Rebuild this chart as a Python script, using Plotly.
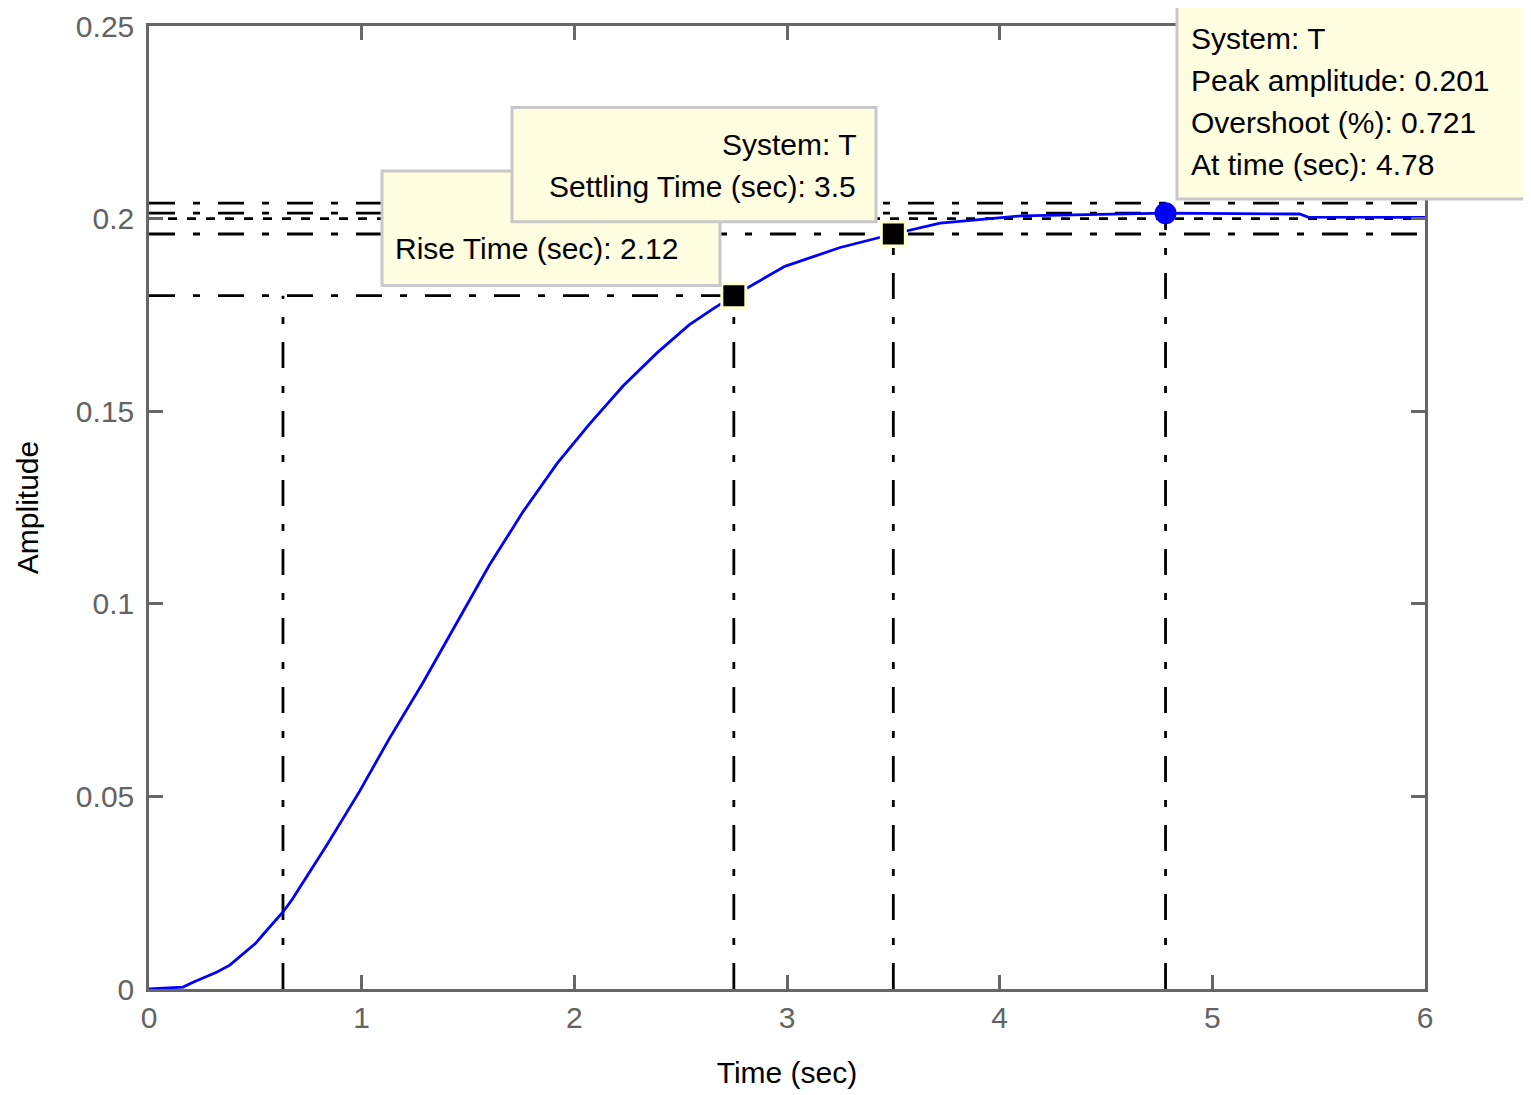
import plotly.graph_objects as go

# ---- data ----
time_s = [0.0, 0.16, 0.21, 0.32, 0.38, 0.44, 0.50, 0.55, 0.63, 0.67, 0.84, 0.99,
          1.13, 1.29, 1.45, 1.60, 1.76, 1.92, 2.07, 2.23, 2.39, 2.54, 2.65, 2.75,
          2.99, 3.25, 3.50, 3.72, 4.10, 4.78, 5.41, 5.45, 6.0]
amplitude = [0.0, 0.0005, 0.0018, 0.0044, 0.0062, 0.0090, 0.0118, 0.0150, 0.0200, 0.0230,
             0.0377, 0.0513, 0.065, 0.0797, 0.0955, 0.1100, 0.124, 0.1365, 0.1466,
             0.1566, 0.1652, 0.1724, 0.1765, 0.1800, 0.1876, 0.1925, 0.1960, 0.1988,
             0.2007, 0.2014, 0.2012, 0.2004, 0.2003]

final_value = 0.2
settle_band = [0.196, 0.204]
rise_start_t = 0.63
rise_end_t = 2.75
rise_level = 0.18
settling_t = 3.5
settling_level = 0.196
peak_t = 4.78
peak_value = 0.2014

x_ticks = [0, 1, 2, 3, 4, 5, 6]
y_ticks = [0, 0.05, 0.1, 0.15, 0.2, 0.25]
y_tick_labels = ["0", "0.05", "0.1", "0.15", "0.2", "0.25"]

rise_text = "Rise Time (sec): 2.12"
settle_lines = ["System: T", "Settling Time (sec): 3.5"]
peak_lines = ["System: T", "Peak amplitude: 0.201", "Overshoot (%): 0.721", "At time (sec): 4.78"]

# ---- layout geometry (pixels); page body has an 8px margin ----
OFF = 8
W, H = 1531 - OFF, 1095 - OFF
PL, PT, PR, PB = 149, 26, 1425, 989  # plot area in page pixels
PW, PH = PR - PL, PB - PT
L, T = PL - OFF, PT - OFF
R, B = W - L - PW, H - T - PH

# reference pixel positions (top at 20) are mapped onto the slightly shorter plot
REF_T = 20


def px(x):
    return (x - PL) / PW


def py(y):
    return (PB - y) / (PB - REF_T)


FONT = "Liberation Sans, Arial, sans-serif"
DASHDOT = "26px,18px,7px,18px"
BOX_FILL = "#fffee0"
BOX_LINE = "#c8c8c8"

fig = go.Figure()


def ref_line(xs, ys, dash=DASHDOT, width=2.8):
    fig.add_trace(go.Scatter(x=xs, y=ys, mode="lines", showlegend=False, hoverinfo="skip",
                             line=dict(color="black", width=width, dash=dash)))


# characteristic reference lines
ref_line([0, 6], [settle_band[1], settle_band[1]])
ref_line([0, peak_t], [peak_value, peak_value])
ref_line([0, 6], [final_value, final_value], dash="9px,10px", width=2.6)
ref_line([0, 6], [settle_band[0], settle_band[0]])
ref_line([0, rise_end_t], [rise_level, rise_level])
ref_line([rise_start_t, rise_start_t], [0, rise_level])
ref_line([rise_end_t, rise_end_t], [0, rise_level])
ref_line([settling_t, settling_t], [0, settling_level])
ref_line([peak_t, peak_t], [0, peak_value])

# step response
fig.add_trace(go.Scatter(x=time_s, y=amplitude, mode="lines", showlegend=False,
                         line=dict(color="#0000ff", width=2.8)))

# markers
fig.add_trace(go.Scatter(x=[rise_end_t, settling_t], y=[rise_level, settling_level],
                         mode="markers", showlegend=False,
                         marker=dict(symbol="square", size=24, color="black",
                                     line=dict(color="#ffffd0", width=3))))
fig.add_trace(go.Scatter(x=[peak_t], y=[peak_value], mode="markers", showlegend=False,
                         marker=dict(symbol="circle", size=22, color="#0000ff",
                                     line=dict(width=0))))

shapes = []
annotations = []


def add_box(x0, y0, x1, y1):
    shapes.append(dict(type="rect", xref="paper", yref="paper", layer="above",
                       x0=px(x0), x1=px(x1), y0=py(y1), y1=py(y0),
                       fillcolor=BOX_FILL, line=dict(color=BOX_LINE, width=3)))


def add_text(text, x, y, anchor="left"):
    annotations.append(dict(text=text, xref="paper", yref="paper", x=px(x), y=py(y),
                            xanchor=anchor, yanchor="middle", showarrow=False,
                            font=dict(family=FONT, size=30, color="black")))


# rise box (under), settling box, peak box
add_box(382, 166, 720, 281)
add_text(rise_text, 393, 244)
add_box(512, 102, 876, 217)
add_text(settle_lines[0], 858, 139, anchor="right")
add_text(settle_lines[1], 858, 181, anchor="right")
add_box(1177, 0, 1526, 194)
for i, s in enumerate(peak_lines):
    add_text(s, 1189, 33 + 42 * i)

axis_common = dict(showline=True, linecolor="#666666", linewidth=2.5, mirror="allticks",
                   ticks="inside", ticklen=14, tickwidth=2.5, tickcolor="#666666",
                   showgrid=False, zeroline=False, ticklabeloverflow="allow",
                   tickfont=dict(family=FONT, size=30, color="#636363"))

fig.update_layout(
    width=W, height=H,
    margin=dict(l=L, r=R, t=T, b=B, autoexpand=False),
    paper_bgcolor="white", plot_bgcolor="white",
    xaxis=dict(range=[0, 6], tickvals=x_ticks, ticktext=[str(v) for v in x_ticks],
               title=dict(text="Time (sec)", standoff=30,
                          font=dict(family=FONT, size=30, color="black")),
               **axis_common),
    yaxis=dict(range=[0, 0.25], tickvals=y_ticks, ticktext=y_tick_labels,
               ticklabelstandoff=6,
               title=dict(text="Amplitude", standoff=29,
                          font=dict(family=FONT, size=30, color="black")),
               **axis_common),
    shapes=shapes,
    annotations=annotations,
)

fig.write_html("out.html")
